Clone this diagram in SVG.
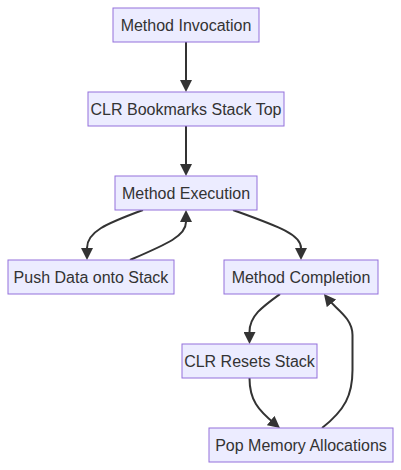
<svg xmlns="http://www.w3.org/2000/svg" width="401" height="470" viewBox="0 0 401 470">
<style>
.node rect{fill:#ECECFF;stroke:#9370DB;stroke-width:1}
.node text{font-family:"Liberation Sans",Arial,sans-serif;font-size:16px;fill:#333;text-anchor:middle;dominant-baseline:central}
.edge{fill:none;stroke:#333;stroke-width:2}
</style>
<defs>
<marker id="arrow" viewBox="0 0 10 10" refX="5" refY="5" markerUnits="userSpaceOnUse" markerWidth="12" markerHeight="12" orient="auto">
<path d="M0,0 L10,5 L0,10 z" fill="#333"/>
</marker>
</defs>
<rect width="401" height="470" fill="#fff"/>
<g id="edges">
<path class="edge" marker-end="url(#arrow)" d="M186,42 L186,86"/>
<path class="edge" marker-end="url(#arrow)" d="M186,126 L186,170"/>
<path class="edge" marker-end="url(#arrow)" d="M143,210 C105,224 87,232 87,248 L87,254"/>
<path class="edge" marker-end="url(#arrow)" d="M130,260 C167,244 186,236 186,222 L186,216"/>
<path class="edge" marker-end="url(#arrow)" d="M233,210 C277,226 301,234 301,248 L301,254"/>
<path class="edge" marker-end="url(#arrow)" d="M280,294 C262,307 249.5,316 249.5,332 L249.5,338"/>
<path class="edge" marker-end="url(#arrow)" d="M249.5,378 C249.5,400 258,410 275.3,424.3"/>
<path class="edge" marker-end="url(#arrow)" d="M322,428 C345,410 352.5,395 352.5,370 L352.5,335 C352.5,318 336,309 327.7,298.7"/>
</g>
<g id="n1" class="node"><rect x="113" y="8" width="146" height="34"/><text x="186" y="25">Method Invocation</text></g>
<g id="n2" class="node"><rect x="88" y="92" width="196" height="34"/><text x="186" y="109">CLR Bookmarks Stack Top</text></g>
<g id="n3" class="node"><rect x="115" y="176" width="142" height="34"/><text x="186" y="193">Method Execution</text></g>
<g id="n4" class="node"><rect x="8" y="260" width="166" height="34"/><text x="91" y="277">Push Data onto Stack</text></g>
<g id="n5" class="node"><rect x="224" y="260" width="154" height="34"/><text x="301" y="277">Method Completion</text></g>
<g id="n6" class="node"><rect x="182" y="344" width="135" height="34"/><text x="249.5" y="361">CLR Resets Stack</text></g>
<g id="n7" class="node"><rect x="209" y="428" width="184" height="34"/><text x="301" y="445">Pop Memory Allocations</text></g>
</svg>
